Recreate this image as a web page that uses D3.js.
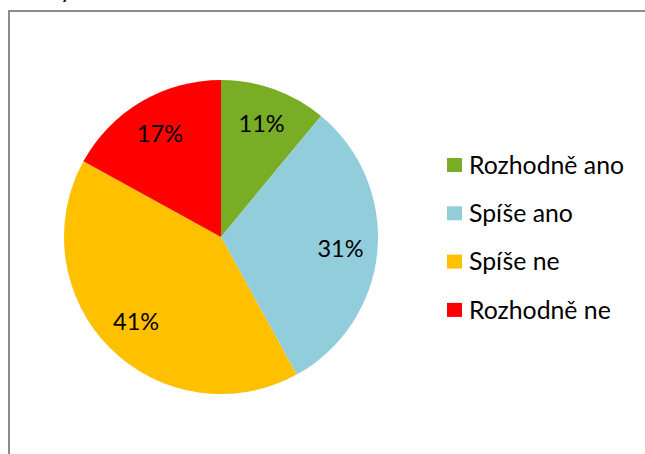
<!DOCTYPE html>
<html>
<head>
<meta charset="utf-8">
<script src="https://cdn.jsdelivr.net/npm/d3@7"></script>
<style>
  body { margin: 0; background: #fff; }
  svg { display: block; font-family: Lato, "Open Sans", sans-serif; }
</style>
</head>
<body>
<script>
// data
const categories = ["Rozhodně ano", "Spíše ano", "Spíše ne", "Rozhodně ne"];
const values = [11, 31, 41, 17];
const colors = ["#79ad26", "#92cddc", "#ffc000", "#ff0000"];

const width = 645, height = 454;
const cx = 221, cy = 237, radius = 157;

const svg = d3.select("body").append("svg")
  .attr("width", width)
  .attr("height", height);

svg.append("rect").attr("width", width).attr("height", height).attr("fill", "#fff");

// cut-off title descender at the top
svg.append("text")
  .attr("x", 60)
  .attr("y", -2)
  .attr("font-size", 24)
  .attr("fill", "#000")
  .text("y");

// chart frame (runs off the right and bottom)
svg.append("path")
  .attr("d", "M9," + (height + 5) + "V11H" + (width + 5))
  .attr("fill", "none")
  .attr("stroke", "#8c8c8c")
  .attr("stroke-width", 2);

const data = categories.map((c, i) => ({ name: c, value: values[i], color: colors[i] }));

const pie = d3.pie().sort(null).value(d => d.value);
const arcs = pie(data);

const arc = d3.arc().innerRadius(0).outerRadius(radius);
const labelArc = d3.arc().innerRadius(120).outerRadius(120);

const g = svg.append("g").attr("transform", "translate(" + cx + "," + cy + ")");

g.selectAll("path.slice")
  .data(arcs)
  .enter().append("path")
  .attr("class", "slice")
  .attr("d", arc)
  .attr("fill", d => d.data.color);

g.selectAll("text.lbl")
  .data(arcs)
  .enter().append("text")
  .attr("class", "lbl")
  .attr("transform", d => "translate(" + labelArc.centroid(d) + ")")
  .attr("text-anchor", "middle")
  .attr("dy", "0.35em")
  .attr("font-size", 23.5)
  .attr("fill", "#000")
  .text(d => d.data.value + "%");

// legend
const legend = svg.append("g").attr("transform", "translate(447,158)");
const row = d3.scaleLinear().domain([0, 1]).range([0, 48.3]);

const items = legend.selectAll("g.item")
  .data(data)
  .enter().append("g")
  .attr("class", "item")
  .attr("transform", (d, i) => "translate(0," + row(i) + ")");

items.append("rect")
  .attr("width", 15)
  .attr("height", 14)
  .attr("fill", d => d.color);

items.append("text")
  .attr("x", 22)
  .attr("y", 7)
  .attr("dy", "0.35em")
  .attr("font-size", 24.8)
  .attr("fill", "#000")
  .text(d => d.name);
</script>
</body>
</html>
